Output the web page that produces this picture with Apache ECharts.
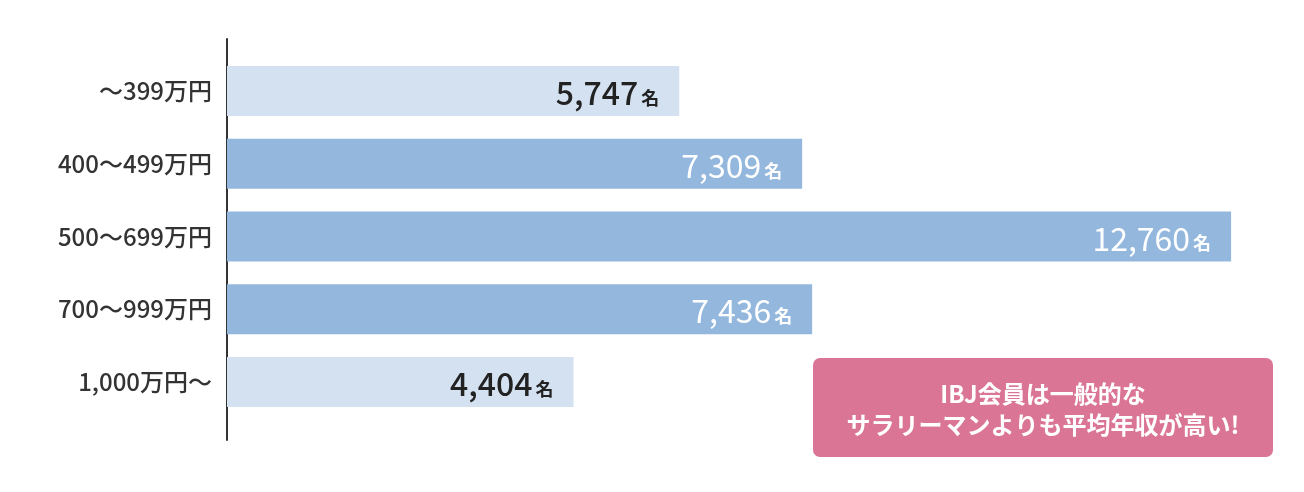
<!DOCTYPE html>
<html>
<head>
<meta charset="utf-8">
<script src="https://cdn.jsdelivr.net/npm/echarts@6/dist/echarts.min.js"></script>
<style>
html,body{margin:0;padding:0;background:#fff;}
#chart{width:1304px;height:492px;}
</style>
</head>
<body>
<div id="chart"></div>
<script>
const categories = ['～399万円', '400～499万円', '500～699万円', '700～999万円', '1,000万円～'];
const counts = [5747, 7309, 12760, 7436, 4404];
const highlight = [false, true, true, true, false];
const unitLabel = '名';
const noteLines = ['IBJ会員は一般的な', 'サラリーマンよりも平均年収が高い!'];

const FONT = '"Noto Sans CJK JP", "Noto Sans", sans-serif';
const LIGHT = '#d3e1f1';
const DARK = '#93b7dd';

const chart = echarts.init(document.getElementById('chart'), null, {renderer: 'canvas'});

const data = counts.map((v, i) => ({
  value: v,
  itemStyle: {color: highlight[i] ? DARK : LIGHT},
  label: {
    rich: {
      v: {fontSize: 32, fontFamily: FONT, fontWeight: highlight[i] ? 'normal' : 500, color: highlight[i] ? '#ffffff' : '#222222', lineHeight: 36, verticalAlign: 'bottom'},
      u: {fontSize: 18, fontFamily: FONT, fontWeight: 'bold', color: highlight[i] ? '#ffffff' : '#222222', lineHeight: 36, verticalAlign: 'bottom', padding: [0, 0, 2, 3]}
    }
  }
}));

chart.setOption({
  animation: false,
  grid: [
    {left: 227, right: 54, top: 54.6, height: 363.75},
    {left: 227, right: 54, top: 39, height: 401}
  ],
  xAxis: [
    {type: 'value', gridIndex: 0, min: 0, max: 13000, show: false},
    {type: 'value', gridIndex: 1, min: 0, max: 1, show: false}
  ],
  yAxis: [
    {
      type: 'category', gridIndex: 0, data: categories, inverse: true,
      axisLine: {show: false}, axisTick: {show: false}, splitLine: {show: false},
      axisLabel: {fontSize: 24, fontFamily: FONT, fontWeight: 500, color: '#333333', margin: 15}
    },
    {
      type: 'value', gridIndex: 1, min: 0, max: 1,
      axisLine: {show: true, lineStyle: {color: '#333333', width: 2}},
      axisTick: {show: false}, axisLabel: {show: false}, splitLine: {show: false}
    }
  ],
  series: [{
    type: 'bar',
    xAxisIndex: 0, yAxisIndex: 0,
    data: data,
    barWidth: 50,
    label: {
      show: true,
      position: 'insideRight',
      distance: 20,
      formatter: p => '{v|' + p.value.toLocaleString('en-US') + '}{u|' + unitLabel + '}'
    }
  }],
  graphic: [
    {
      type: 'rect', left: 813, top: 358, z: 10,
      shape: {width: 460, height: 99, r: 7},
      style: {fill: '#da7595'}
    },
    {
      type: 'text', z: 11,
      x: 1043, y: 409,
      style: {
        text: noteLines.join('\n'),
        fill: '#ffffff', fontSize: 24, fontWeight: 'bold', fontFamily: FONT,
        lineHeight: 31, align: 'center', verticalAlign: 'middle'
      }
    }
  ]
});
</script>
</body>
</html>
